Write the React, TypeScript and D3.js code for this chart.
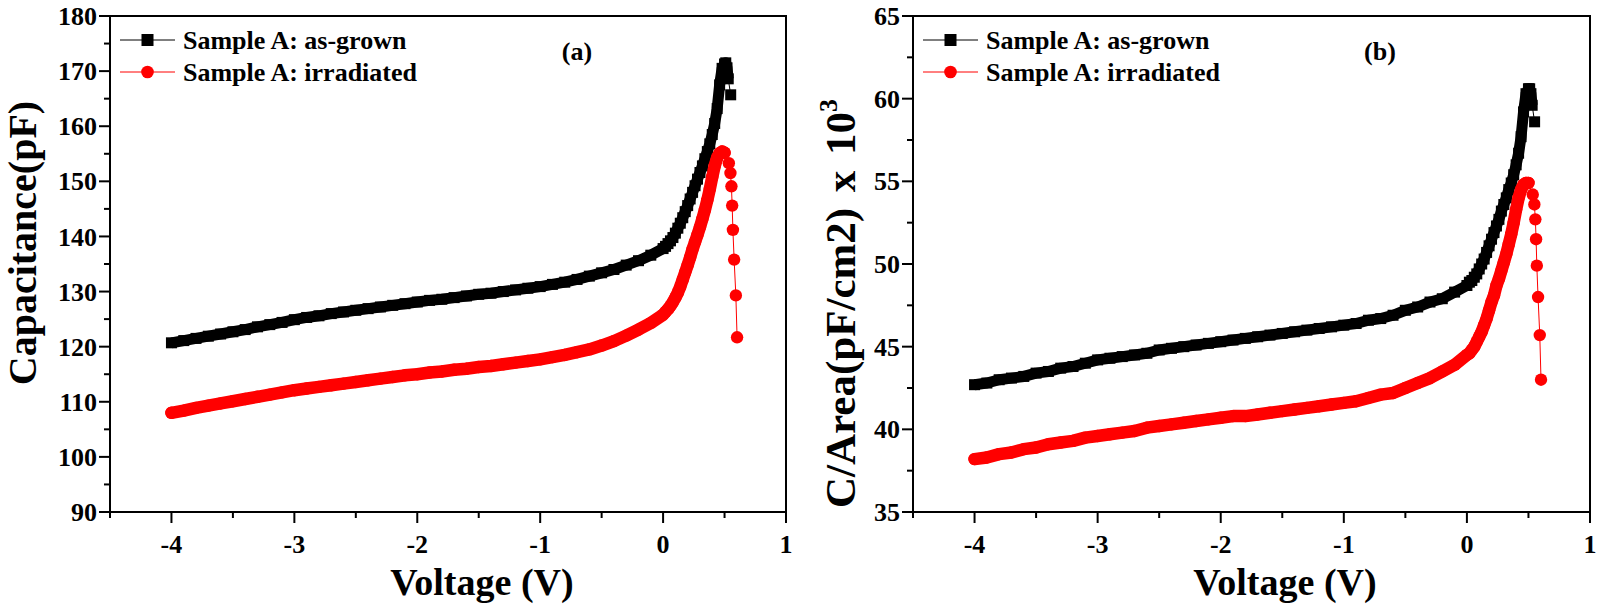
import React from 'react';
import * as d3 from 'd3';

// bias sweep (V): 0.1 V steps to 0, then 0.02 V steps up to the peak
const sweepV = [
  -4.0, -3.9, -3.8, -3.7, -3.6, -3.5, -3.4, -3.3, -3.2, -3.1,
  -3.0, -2.9, -2.8, -2.7, -2.6, -2.5, -2.4, -2.3, -2.2, -2.1,
  -2.0, -1.9, -1.8, -1.7, -1.6, -1.5, -1.4, -1.3, -1.2, -1.1,
  -1.0, -0.9, -0.8, -0.7, -0.6, -0.5, -0.4, -0.3, -0.2, -0.1,
  0.0,
  0.02, 0.04, 0.06, 0.08, 0.1, 0.12, 0.14, 0.16, 0.18, 0.2,
  0.22, 0.24, 0.26, 0.28, 0.3, 0.32, 0.34, 0.36, 0.38, 0.4,
  0.42, 0.44, 0.46, 0.48, 0.5,
];
const tailGrownV = [0.51, 0.52, 0.53, 0.55];
const tailIrrV = [0.535, 0.548, 0.556, 0.562, 0.568, 0.578, 0.592, 0.602];

// (a) capacitance, pF
const capGrown = [
  120.7, 121.1, 121.5, 121.9, 122.3, 122.7, 123.1, 123.6, 124.0, 124.4,
  124.9, 125.3, 125.6, 126.0, 126.3, 126.6, 126.9, 127.2, 127.5, 127.8,
  128.1, 128.4, 128.6, 128.9, 129.2, 129.5, 129.7, 130.0, 130.3, 130.6,
  130.9, 131.3, 131.7, 132.2, 132.8, 133.4, 134.0, 134.8, 135.6, 136.6,
  137.8,
  138.2, 138.7, 139.2, 139.8, 140.6, 141.5, 142.4, 143.4, 144.5, 145.6,
  146.8, 148.0, 149.2, 150.4, 151.6, 152.8, 154.1, 155.4, 156.8, 158.5,
  160.5, 163.2, 167.5, 170.5, 171.3,
  171.5, 170.6, 168.6, 165.7,
];
const capIrr = [
  108.0, 108.4, 108.9, 109.3, 109.7, 110.1, 110.5, 110.9, 111.3, 111.7,
  112.1, 112.4, 112.7, 113.0, 113.3, 113.6, 113.9, 114.2, 114.5, 114.8,
  115.0, 115.3, 115.5, 115.8, 116.0, 116.3, 116.5, 116.8, 117.1, 117.4,
  117.7, 118.1, 118.5, 119.0, 119.5, 120.2, 121.0, 122.0, 123.1, 124.3,
  125.8,
  126.3, 126.8, 127.4, 128.1, 128.9, 129.8, 130.9, 132.2, 133.5, 134.8,
  136.2, 137.7, 139.0, 140.3, 141.7, 143.2, 144.8, 146.6, 148.6, 150.8,
  152.8, 154.3, 155.1, 155.4, 155.2,
  153.3, 151.5, 149.1, 145.6, 141.2, 135.8, 129.3, 121.7,
];

// (b) C/area, pF/cm2 x 10^3
const areaGrown = [
  42.7, 42.8, 43.0, 43.1, 43.2, 43.4, 43.5, 43.7, 43.8, 44.0,
  44.2, 44.3, 44.4, 44.5, 44.6, 44.8, 44.9, 45.0, 45.1, 45.2,
  45.3, 45.4, 45.5, 45.6, 45.7, 45.8, 45.9, 46.0, 46.1, 46.2,
  46.3, 46.4, 46.6, 46.7, 46.9, 47.2, 47.4, 47.7, 47.9, 48.3,
  48.7,
  48.9, 49.0, 49.2, 49.4, 49.7, 50.0, 50.3, 50.7, 51.1, 51.5,
  51.9, 52.3, 52.7, 53.2, 53.6, 54.0, 54.5, 54.9, 55.4, 56.0,
  56.7, 57.7, 59.2, 60.3, 60.6,
  60.6, 60.3, 59.6, 58.6,
];
const areaIrr = [
  38.2, 38.3, 38.5, 38.6, 38.8, 38.9, 39.1, 39.2, 39.3, 39.5,
  39.6, 39.7, 39.8, 39.9, 40.1, 40.2, 40.3, 40.4, 40.5, 40.6,
  40.7, 40.8, 40.8, 40.9, 41.0, 41.1, 41.2, 41.3, 41.4, 41.5,
  41.6, 41.7, 41.9, 42.1, 42.2, 42.5, 42.8, 43.1, 43.5, 43.9,
  44.5,
  44.6, 44.8, 45.0, 45.3, 45.6, 45.9, 46.3, 46.7, 47.2, 47.7,
  48.1, 48.7, 49.1, 49.6, 50.1, 50.6, 51.2, 51.8, 52.5, 53.3,
  54.0, 54.5, 54.8, 54.9, 54.9,
  54.2, 53.6, 52.7, 51.5, 49.9, 48.0, 45.7, 43.0,
];

const xTicks = [-4, -3, -2, -1, 0, 1];
const xMinor = [-4.5, -3.5, -2.5, -1.5, -0.5, 0.5];
const legendLabels = ['Sample A: as-grown', 'Sample A: irradiated'];

const FONT = '"Liberation Serif", "Times New Roman", serif';

type Pt = [number, number];

const zip = (xs: number[], ys: number[]): Pt[] => xs.map((x, i) => [x, ys[i]]);

interface PanelProps {
  left: number;
  right: number;
  yDomain: [number, number];
  yMajor: number[];
  yMinor: number[];
  grown: Pt[];
  irr: Pt[];
  tag: string;
  yTitle: React.ReactNode;
}

const TOP = 16;
const BOTTOM = 512;

function Panel(props: PanelProps) {
  const { left, right, yDomain, yMajor, yMinor, grown, irr, tag, yTitle } = props;
  const x = d3.scaleLinear().domain([-4.5, 1]).range([left, right]);
  const y = d3.scaleLinear().domain(yDomain).range([BOTTOM, TOP]);
  const line = d3.line<Pt>().x(d => x(d[0])).y(d => y(d[1]));

  const denseGrown = grown.slice(0, sweepV.length + 3);
  const denseIrr = irr.slice(0, sweepV.length);
  const sq = 11;

  return (
    <g fontFamily={FONT} fontWeight="bold">
      {/* thin connecting lines */}
      <path d={line(grown) as string} fill="none" stroke="#000" strokeWidth={1} />
      <path d={line(irr) as string} fill="none" stroke="#f00" strokeWidth={1} />
      {/* dense overlapping symbols form a band */}
      <path d={line(denseGrown) as string} fill="none" stroke="#000" strokeWidth={sq} strokeLinejoin="round" />
      {grown.map((d, i) => (
        <rect key={'g' + i} x={x(d[0]) - sq / 2} y={y(d[1]) - sq / 2} width={sq} height={sq} fill="#000" />
      ))}
      <path d={line(denseIrr) as string} fill="none" stroke="#f00" strokeWidth={12.5} strokeLinejoin="round" strokeLinecap="round" />
      {irr.map((d, i) => (
        <circle key={'r' + i} cx={x(d[0])} cy={y(d[1])} r={6.2} fill="#f00" />
      ))}

      {/* frame */}
      <rect x={left} y={TOP} width={right - left} height={BOTTOM - TOP} fill="none" stroke="#000" strokeWidth={2} />

      {/* x axis */}
      {xTicks.map(t => (
        <g key={'xt' + t}>
          <line x1={x(t)} x2={x(t)} y1={BOTTOM} y2={BOTTOM + 11} stroke="#000" strokeWidth={2} />
          <text x={x(t)} y={553} textAnchor="middle" fontSize={26}>{t}</text>
        </g>
      ))}
      {xMinor.map(t => (
        <line key={'xm' + t} x1={x(t)} x2={x(t)} y1={BOTTOM} y2={BOTTOM + 6} stroke="#000" strokeWidth={2} />
      ))}
      <text x={left + 372} y={595} textAnchor="middle" fontSize={38}>Voltage (V)</text>

      {/* y axis */}
      {yMajor.map(t => (
        <g key={'yt' + t}>
          <line x1={left - 11} x2={left} y1={y(t)} y2={y(t)} stroke="#000" strokeWidth={2} />
          <text x={left - 13} y={y(t)} dy="0.35em" textAnchor="end" fontSize={26}>{t}</text>
        </g>
      ))}
      {yMinor.map(t => (
        <line key={'ym' + t} x1={left - 6} x2={left} y1={y(t)} y2={y(t)} stroke="#000" strokeWidth={2} />
      ))}
      {yTitle}

      {/* legend */}
      {legendLabels.map((lab, i) => {
        const cy = 40 + i * 32;
        const lx = left + 10;
        const col = i === 0 ? '#000' : '#f00';
        return (
          <g key={lab}>
            <line x1={lx} x2={lx + 55} y1={cy} y2={cy} stroke={col} strokeWidth={1} />
            {i === 0 ? (
              <rect x={lx + 27.5 - 6} y={cy - 6} width={12} height={12} fill={col} />
            ) : (
              <circle cx={lx + 27.5} cy={cy} r={6.3} fill={col} />
            )}
            <text x={lx + 63} y={cy + 9} fontSize={26}>{lab}</text>
          </g>
        );
      })}

      <text x={left + 467} y={60} textAnchor="middle" fontSize={26}>{tag}</text>
    </g>
  );
}

export default function App() {
  const grownA = zip(sweepV.concat(tailGrownV), capGrown);
  const irrA = zip(sweepV.concat(tailIrrV), capIrr);
  const grownB = zip(sweepV.concat(tailGrownV), areaGrown);
  const irrB = zip(sweepV.concat(tailIrrV), areaIrr);

  return (
    <svg
      width={1600}
      height={605}
      style={{ position: 'absolute', left: 0, top: 0, background: '#fff' }}
    >
      <Panel
        left={110}
        right={786}
        yDomain={[90, 180]}
        yMajor={d3.range(90, 181, 10)}
        yMinor={d3.range(95, 180, 10)}
        grown={grownA}
        irr={irrA}
        tag="(a)"
        yTitle={
          <text transform="translate(36,243) rotate(-90)" textAnchor="middle" fontSize={40}>
            Capacitance(pF)
          </text>
        }
      />
      <Panel
        left={913}
        right={1590}
        yDomain={[35, 65]}
        yMajor={d3.range(35, 66, 5)}
        yMinor={d3.range(37.5, 65, 5)}
        grown={grownB}
        irr={irrB}
        tag="(b)"
        yTitle={
          <text
            transform="translate(855,508) rotate(-90)"
            textAnchor="start"
            fontSize={43}
            wordSpacing={5}
          >
            C/Area(pF/cm2) x 10
            <tspan dy={-18} fontSize={26}>3</tspan>
          </text>
        }
      />
    </svg>
  );
}
